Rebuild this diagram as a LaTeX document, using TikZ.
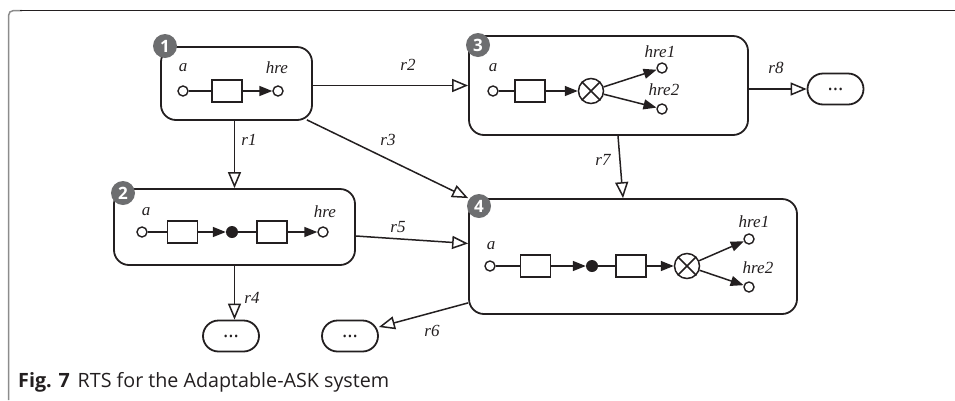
\documentclass[tikz,border=0pt]{standalone}
\usepackage{fontspec}
\setmainfont{Liberation Serif}
\setsansfont{Open Sans}
\usetikzlibrary{arrows.meta,calc}
\definecolor{ink}{HTML}{231F20}
\definecolor{badgegray}{HTML}{6D6E70}
\definecolor{framegray}{HTML}{8C8C8C}
\begin{document}
\begin{tikzpicture}[x=1pt,y=-1pt,
  every path/.style={color=ink},
  box/.style={draw=ink, line width=1.8pt, rounded corners=15pt, inner sep=0pt},
  more/.style={draw=ink, line width=1.8pt, rounded corners=15.5pt, minimum width=56pt,
    minimum height=31pt, inner sep=0pt, font=\sffamily\fontsize{20}{20}\selectfont},
  badge/.style={circle, fill=badgegray, minimum size=24pt, inner sep=0pt, text=white,
    font=\sffamily\bfseries\fontsize{17}{17}\selectfont},
  port/.style={circle, draw=ink, fill=white, line width=1.4pt, minimum size=10pt, inner sep=0pt},
  proc/.style={draw=ink, line width=1.5pt, minimum width=30pt, minimum height=22pt, inner sep=0pt},
  junc/.style={circle, fill=ink, minimum size=12pt, inner sep=0pt},
  merge/.style={circle, draw=ink, line width=1.5pt, minimum size=25pt, inner sep=0pt},
  flow/.style={line width=1.5pt},
  flowa/.style={flow, -{Triangle[length=13pt,width=10pt]}},
  trans/.style={line width=1.5pt, -{Triangle[open,length=16pt,width=13pt,fill=white]}},
  lbl/.style={font=\itshape\fontsize{17}{17}\selectfont, inner sep=0pt, text=ink},
]
\useasboundingbox (0,0) rectangle (955,400);

% frame of the figure
\draw[line width=1.5pt, color=framegray, rounded corners=5pt] (8.5,400) -- (8.5,10.5) -- (22,10.5);
\draw[line width=1.6pt] (20,10.5) -- (955,10.5);

% states
\node[box, minimum width=151pt, minimum height=73pt] (b1) at (236.5,83.5) {};
\node[box, minimum width=241pt, minimum height=76pt] (b2) at (234.5,227) {};
\node[box, minimum width=279pt, minimum height=99pt] (b3) at (608.5,85.5) {};
\node[box, minimum width=328pt, minimum height=115pt] (b4) at (633,256.5) {};
\node[more] (m8) at (835.5,89) {...};
\node[more] (m4) at (231,336) {...};
\node[more] (m6) at (350,336) {...};

% state 1
\node[port] (p1a) at (183,91) {};
\node[proc] (p1r) at (227,91) {};
\node[port] (p1h) at (278,91) {};
\draw[flow] (p1a) -- (p1r);
\draw[flowa] (p1r) -- (p1h);
\node[lbl] (l1a) at (183,68) {a};
\node[lbl] (l1h) at (277,68) {hre};

% state 2
\node[port] (p2a) at (142,232) {};
\node[proc] (p2r1) at (182.5,232) {};
\node[junc] (p2d) at (232,232) {};
\node[proc] (p2r2) at (272,232) {};
\node[port] (p2h) at (323,232) {};
\draw[flow] (p2a) -- (p2r1);
\draw[flowa] (p2r1) -- (p2d);
\draw[flow] (p2d) -- (p2r2);
\draw[flowa] (p2r2) -- (p2h);
\node[lbl] (l2a) at (146,212) {a};
\node[lbl] (l2h) at (325,212) {hre};

% state 3
\node[port] (p3a) at (493,91) {};
\node[proc] (p3r) at (530,91) {};
\node[merge] (p3x) at (591,91) {};
\draw[line width=1.5pt] (p3x.45) -- (p3x.225) (p3x.135) -- (p3x.315);
\node[port] (p3h1) at (662,68) {};
\node[port] (p3h2) at (662,109) {};
\draw[flow] (p3a) -- (p3r);
\draw[flowa] (p3r) -- (p3x);
\draw[flowa] (p3x) -- (p3h1);
\draw[flowa] (p3x) -- (p3h2);
\node[lbl] (l3a) at (493,68) {a};
\node[lbl] (l3h1) at (660,52) {hre1};
\node[lbl] (l3h2) at (664,90) {hre2};

% state 4
\node[port] (p4a) at (490,266) {};
\node[proc] (p4r1) at (535.5,266) {};
\node[junc] (p4d) at (592,266) {};
\node[proc] (p4r2) at (631,266) {};
\node[merge] (p4x) at (687,266) {};
\draw[line width=1.5pt] (p4x.45) -- (p4x.225) (p4x.135) -- (p4x.315);
\node[port] (p4h1) at (749,239) {};
\node[port] (p4h2) at (749,287) {};
\draw[flow] (p4a) -- (p4r1);
\draw[flowa] (p4r1) -- (p4d);
\draw[flow] (p4d) -- (p4r2);
\draw[flowa] (p4r2) -- (p4x);
\draw[flowa] (p4x) -- (p4h1);
\draw[flowa] (p4x) -- (p4h2);
\node[lbl] (l4a) at (491,246) {a};
\node[lbl] (l4h1) at (754,222) {hre1};
\node[lbl] (l4h2) at (758,268) {hre2};

% transitions
\draw[trans] (b1.south -| b2.north) -- (b2.north);
\draw[trans] (b3.west -| b1.east) -- (b3.west);
\draw[trans] ($(b1.south east)+(-6,-1)$) -- (b4.north west);
\draw[trans] (b2.south) -- (b2.south |- m4.north);
\draw[trans] ($(b2.east)+(0,9)$) -- ($(b4.west)+(0,-13)$);
\draw[trans] ($(b4.south west)+(0,-12)$) -- ($(m6.east)+(0,-9)$);
\draw[trans] ($(b3.south)+(9.5,0)$) -- ($(b4.north)+(-10,0)$);
\draw[trans] (m8.west -| b3.east) -- (m8.west);

\node[lbl] (r1) at (249,140) {r1};
\node[lbl] (r2) at (408,65) {r2};
\node[lbl] (r3) at (388,140) {r3};
\node[lbl] (r4) at (252,298) {r4};
\node[lbl] (r5) at (398,227) {r5};
\node[lbl] (r6) at (432,331) {r6};
\node[lbl] (r7) at (603,160) {r7};
\node[lbl] (r8) at (776,68) {r8};

% state numbers
\node[badge] (n1) at (165,46) {1};
\node[badge] (n2) at (123,193) {2};
\node[badge] (n3) at (478,45) {3};
\node[badge] (n4) at (479,206) {4};

% caption
\node[anchor=base west, inner sep=0pt, text=ink, font=\sffamily\fontsize{19.7}{19.7}\selectfont] (cap)
  at (18,387) {\textbf{Fig. 7}\hspace{0.4em}RTS for the Adaptable-ASK system};
\end{tikzpicture}
\end{document}
